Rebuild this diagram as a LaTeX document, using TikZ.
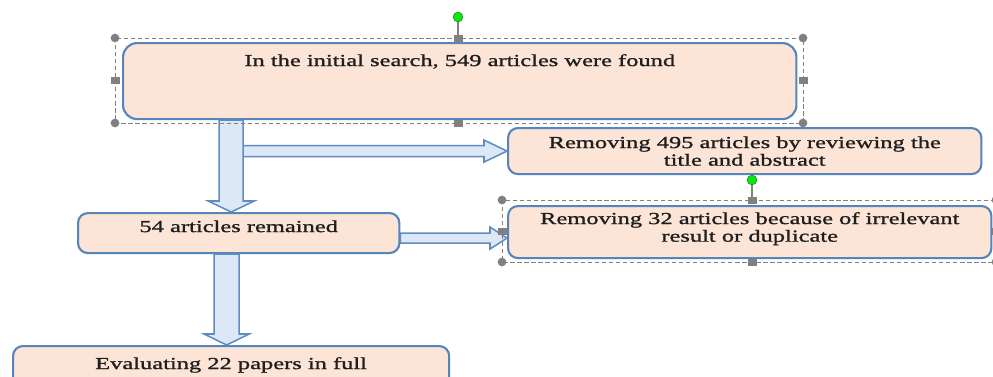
\documentclass[tikz,border=0pt]{standalone}
\usepackage{fontspec}
\setmainfont{Liberation Serif}[FakeStretch=1.45,FakeBold=1.2]
\usetikzlibrary{calc}
\definecolor{boxfill}{RGB}{252,229,215}
\definecolor{boxline}{RGB}{84,133,188}
\definecolor{arrowfill}{RGB}{220,232,246}
\definecolor{arrowline}{RGB}{96,140,194}
\definecolor{handlegray}{RGB}{128,128,128}
\definecolor{handlegreen}{RGB}{20,225,20}
\definecolor{textgray}{RGB}{30,30,30}
\begin{document}
\begin{tikzpicture}[x=0.025cm,y=-0.025cm,
    box/.style={draw=boxline, fill=boxfill, line width=1.5pt, rounded corners=7pt,
        inner sep=0pt, anchor=north west, text=textgray, font=\fontsize{12pt}{12.5pt}\selectfont},
    blockarrow/.style={draw=arrowline, fill=arrowfill, line width=1.1pt},
    selframe/.style={draw=handlegray, dash pattern=on 3pt off 2pt, line width=0.5pt},
    cornerhandle/.style={fill=handlegray},
    sidehandle/.style={fill=handlegray},
    rothandle/.style={fill=handlegreen, draw=green!50!black, line width=0.3pt}]
    \useasboundingbox (0,0) rectangle (993,376);
    \fill[white] (0,0) rectangle (993,376);
    % Cajas
    \node[box, rounded corners=10pt, minimum width=16.83cm, text height=0.575cm, text depth=1.325cm] (search) at (122,42)
        {In the initial search, 549 articles were found};
    \node[box, minimum width=11.83cm, text height=0.5cm, text depth=0.65cm] (title) at (507,127)
        {\begin{tabular}[t]{@{}c@{}}Removing 495 articles by reviewing the\\title and abstract\end{tabular}};
    \node[box, minimum width=8.03cm, text height=0.475cm, text depth=0.525cm] (remained) at (77,212)
        {54 articles remained};
    \node[box, minimum width=12.08cm, text height=0.45cm, text depth=0.85cm] (irrelevant) at (507,205)
        {\begin{tabular}[t]{@{}c@{}}Removing 32 articles because of irrelevant\\result or duplicate\end{tabular}};
    \node[box, minimum width=10.9cm, text height=0.575cm, text depth=0.675cm] (full) at (12,345)
        {Evaluating 22 papers in full};
    % Flechas
    \coordinate (t1) at ($(remained.north)+(-7.5,0)$);
    \coordinate (s1) at (t1 |- search.south);
    \coordinate (s2) at ($(t1 |- title.west)+(12,0)$);
    \draw[blockarrow] ($(s2)+(0,-5.5)$) -- ($(title.west)+(-23,-5.5)$) -- ($(title.west)+(-23,-11)$)
        -- (title.west) -- ($(title.west)+(-23,11)$) -- ($(title.west)+(-23,5.5)$) -- ($(s2)+(0,5.5)$) -- cycle;
    \draw[blockarrow] ($(s1)+(-12,0)$) -- ($(t1)+(-12,-11)$) -- ($(t1)+(-23,-11)$)
        -- (t1) -- ($(t1)+(23,-11)$) -- ($(t1)+(12,-11)$) -- ($(s1)+(12,0)$) -- cycle;
    \coordinate (s3) at ($(remained.east)+(0,5)$);
    \coordinate (t3) at (irrelevant.west |- s3);
    \draw[blockarrow] ($(s3)+(0,-5)$) -- ($(t3)+(-17,-5)$) -- ($(t3)+(-17,-11)$)
        -- (t3) -- ($(t3)+(-17,11)$) -- ($(t3)+(-17,5)$) -- ($(s3)+(0,5)$) -- cycle;
    \coordinate (t4) at ($(full.north)+(-4.5,0)$);
    \coordinate (s4) at (t4 |- remained.south);
    \draw[blockarrow] ($(s4)+(-12.5,0)$) -- ($(t4)+(-12.5,-11)$) -- ($(t4)+(-22.5,-11)$)
        -- (t4) -- ($(t4)+(22.5,-11)$) -- ($(t4)+(12.5,-11)$) -- ($(s4)+(12.5,0)$) -- cycle;
    % Seleccion de la primera caja
    \draw[selframe] (115,38) rectangle (803,123);
    \draw[handlegray, line width=1pt] (458,21) -- (458,38);
    \draw[rothandle] (458,17) circle (3.5pt);
    \fill[cornerhandle] (115,38) circle (3.1pt);
    \fill[cornerhandle] (803,38) circle (3.1pt);
    \fill[cornerhandle] (115,123) circle (3.1pt);
    \fill[cornerhandle] (803,123) circle (3.1pt);
    \fill[sidehandle] (453.5,34.5) rectangle (462.5,41.5);
    \fill[sidehandle] (453.5,119.5) rectangle (462.5,126.5);
    \fill[sidehandle] (110.5,76.5) rectangle (119.5,83.5);
    \fill[sidehandle] (798.5,76.5) rectangle (807.5,83.5);
    % Seleccion de la cuarta caja
    \draw[selframe] (502,200) rectangle (996,262);
    \draw[handlegray, line width=1pt] (752,184) -- (752,200);
    \draw[rothandle] (752,180) circle (3.5pt);
    \fill[cornerhandle] (502,200) circle (3.1pt);
    \fill[cornerhandle] (996,200) circle (3.1pt);
    \fill[cornerhandle] (502,262) circle (3.1pt);
    \fill[cornerhandle] (996,262) circle (3.1pt);
    \fill[sidehandle] (747.5,196.5) rectangle (756.5,203.5);
    \fill[sidehandle] (747.5,258.5) rectangle (756.5,265.5);
    \fill[sidehandle] (497.5,227.5) rectangle (506.5,234.5);
    \fill[sidehandle] (991.5,227.5) rectangle (1000.5,234.5);
\end{tikzpicture}
\end{document}
